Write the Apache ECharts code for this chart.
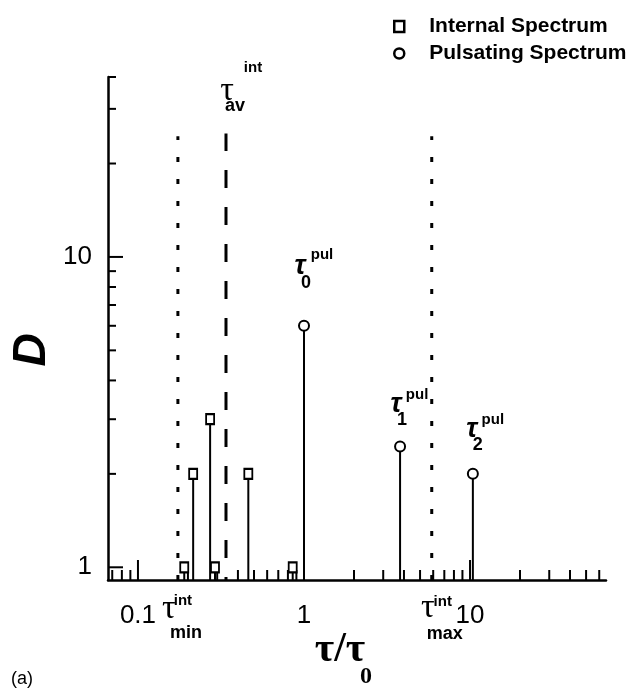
<!DOCTYPE html>
<html><head><meta charset="utf-8">
<script src="https://cdn.jsdelivr.net/npm/echarts@6/dist/echarts.min.js"></script>
<style>html,body{margin:0;padding:0;background:#fff}#c{width:634px;height:691px}</style>
</head><body><div id="c"></div>
<script>
// ---------------- data ----------------
const internalTau  = [0.190, 0.215, 0.272, 0.291, 0.462, 0.855];
const internalD    = [1, 2, 3, 1, 2, 1];
const pulsatingTau = [1.0, 3.79, 10.4];
const pulsatingD   = [6, 2.45, 2];
const refTau = [0.174, 0.339, 5.88];   // tau_min, tau_av, tau_max
const refTop = [24.5, 25, 24.5];
const xTickValues = [0.1, 1, 10];
const xTickLabels = ['0.1', '1', '10'];
const yTickValues = [1, 10];
const yTickLabels = ['1', '10'];
const xMinorTicks = [0.07, 0.08, 0.09, 0.2, 0.3, 0.4, 0.5, 0.6, 0.7, 0.8, 0.9, 2, 3, 4, 5, 6, 7, 8, 9, 20, 30, 40, 50, 60];
const yMinorTicks = [2, 3, 4, 5, 6, 7, 8, 9, 20, 30];
const xRange = [0.066, 65.9];
const yRange = [0.91, 38];
const seriesNames = ['Internal Spectrum', 'Pulsating Spectrum'];
const annotBase = ['τ', 'τ', 'τ', 'τ', 'τ', 'τ'];
const annotSub  = ['min', 'av', 'max', '0', '1', '2'];
const annotSup  = ['int', 'int', 'int', 'pul', 'pul', 'pul'];

// ---------------- styling / layout ----------------
const SERIF = "'Liberation Serif', 'Times New Roman', serif";
const SANS = "'Liberation Sans', Arial, sans-serif";

const annotLayout = [
  // [baseDx, baseDy, subDx, subDy, supDx, supDy]
  [-9, 29, 8, 53, 5, 21],
  [1, -42, 9, -27, 27, -66],
  [-4, 28, 13, 54, 11, 22],
  [-4, -59, 2, -43, 18, -71],
  [-4, -42, 2, -26, 17, -52],
  [-1, -44, 5, -29, 20, -54]
];

const annotAnchors = [
  [refTau[0], yRange[0]], [refTau[1], refTop[1]], [refTau[2], yRange[0]],
  [pulsatingTau[0], pulsatingD[0]], [pulsatingTau[1], pulsatingD[1]], [pulsatingTau[2], pulsatingD[2]]
];

function labelFor(values, labels) {
  return function (v) {
    for (let i = 0; i < values.length; i++) {
      if (Math.abs(Math.log10(v) - Math.log10(values[i])) < 1e-6) return labels[i];
    }
    return '';
  };
}

const xTicks = xTickValues.map(v => [v, yRange[0], 1]).concat(xMinorTicks.map(v => [v, yRange[0], 0]));
const yTicks = yTickValues.map(v => [xRange[0], v, 1]).concat(yMinorTicks.map(v => [xRange[0], v, 0])).concat([[xRange[0], yRange[1], 0]]);

const internalData = internalTau.map((t, i) => [t, internalD[i]]);
const pulsatingData = pulsatingTau.map((t, i) => [t, pulsatingD[i]]);
const stemData = internalData.concat(pulsatingData);
const refData = refTau.map((t, i) => [t, refTop[i], i]);

const chart = echarts.init(document.getElementById('c'));

const option = {
  animation: false,
  backgroundColor: '#fff',
  grid: { left: 108, right: 28, top: 77, bottom: 111, outerBoundsMode: 'none', containLabel: false },
  legend: {
    orient: 'vertical', left: 388, top: 11, itemWidth: 10, itemHeight: 11, itemGap: 6,
    data: seriesNames,
    itemStyle: { borderWidth: 2.5, borderColor: '#000', color: '#fff' },
    textStyle: { fontFamily: SANS, fontWeight: 'bold', fontSize: 21, color: '#000', padding: [0, 0, 0, 20] }
  },
  xAxis: {
    type: 'log', logBase: 10, min: xRange[0], max: xRange[1],
    axisLine: { lineStyle: { color: '#000', width: 2.5 } },
    axisTick: { show: false }, minorTick: { show: false }, splitLine: { show: false },
    axisLabel: { formatter: labelFor(xTickValues, xTickLabels), margin: 23, fontSize: 26, color: '#000', fontFamily: SANS }
  },
  yAxis: {
    type: 'log', logBase: 10, min: yRange[0], max: yRange[1],
    axisLine: { lineStyle: { color: '#000', width: 2.5 } },
    axisTick: { show: false }, minorTick: { show: false }, splitLine: { show: false },
    axisLabel: { formatter: labelFor(yTickValues, yTickLabels), margin: 16, fontSize: 26, color: '#000', fontFamily: SANS }
  },
  graphic: [
    { type: 'text', x: 32, y: 350, rotation: Math.PI / 2,
      style: { text: 'D', align: 'center', verticalAlign: 'middle', fontFamily: SANS, fontWeight: 'bold', fontStyle: 'italic', fontSize: 46, fill: '#000' } },
    { type: 'text', x: 340, y: 650,
      style: { text: 'τ/τ', align: 'center', verticalAlign: 'middle', fontFamily: SERIF, fontWeight: 'bold', fontSize: 42, fill: '#000' } },
    { type: 'text', x: 366, y: 677,
      style: { text: '0', align: 'center', verticalAlign: 'middle', fontFamily: SERIF, fontWeight: 'bold', fontSize: 24, fill: '#000' } },
    { type: 'text', x: 22, y: 679,
      style: { text: '(a)', align: 'center', verticalAlign: 'middle', fontFamily: SANS, fontSize: 18, fill: '#000' } }
  ],
  series: [
    {
      type: 'custom', name: 'refLines', silent: true, clip: false, z: 1,
      data: refData,
      renderItem: function (params, api) {
        const x = api.value(0), top = api.value(1), k = api.value(2);
        const p0 = api.coord([x, yRange[0]]);
        const p1 = api.coord([x, top]);
        const dashed = k === 1;
        return {
          type: 'line',
          shape: { x1: p0[0], y1: p0[1], x2: p1[0], y2: p1[1] },
          style: dashed
            ? { stroke: '#000', lineWidth: 3, lineDash: [18, 19], lineDashOffset: 15 }
            : { stroke: '#000', lineWidth: 3, lineDash: [5, 17] }
        };
      }
    },
    {
      type: 'custom', name: 'stems', silent: true, clip: false, z: 2,
      data: stemData,
      renderItem: function (params, api) {
        const x = api.value(0), y = api.value(1);
        const p0 = api.coord([x, yRange[0]]);
        const p1 = api.coord([x, y]);
        return { type: 'line', shape: { x1: p0[0], y1: p0[1], x2: p1[0], y2: p1[1] }, style: { stroke: '#000', lineWidth: 2 } };
      }
    },
    {
      type: 'custom', name: 'xTicks', silent: true, clip: false, z: 3,
      data: xTicks,
      renderItem: function (params, api) {
        const p = api.coord([api.value(0), api.value(1)]);
        const len = api.value(2) ? 20 : 10;
        return { type: 'line', shape: { x1: p[0], y1: p[1], x2: p[0], y2: p[1] - len }, style: { stroke: '#000', lineWidth: 2 } };
      }
    },
    {
      type: 'custom', name: 'yTicks', silent: true, clip: false, z: 3,
      data: yTicks,
      renderItem: function (params, api) {
        const p = api.coord([api.value(0), api.value(1)]);
        const len = api.value(2) ? 15 : 8;
        return { type: 'line', shape: { x1: p[0], y1: p[1], x2: p[0] + len, y2: p[1] }, style: { stroke: '#000', lineWidth: 2 } };
      }
    },
    {
      type: 'custom', name: 'annotations', silent: true, clip: false, z: 4,
      data: annotAnchors,
      renderItem: function (params, api) {
        const i = params.dataIndex;
        const p = api.coord([api.value(0), api.value(1)]);
        const L = annotLayout[i];
        const pul = i >= 3;
        const mk = (txt, dx, dy, st) => ({
          type: 'text', x: p[0] + dx, y: p[1] + dy,
          style: Object.assign({ text: txt, fill: '#000', align: 'center', verticalAlign: 'middle' }, st)
        });
        return {
          type: 'group', children: [
            mk(annotBase[i], L[0], L[1], pul
              ? { fontFamily: SANS, fontWeight: 'bold', fontStyle: 'italic', fontSize: 27 }
              : { fontFamily: SERIF, fontSize: 34 }),
            mk(annotSub[i], L[2], L[3], { fontFamily: SANS, fontWeight: 'bold', fontSize: pul ? 18 : 18 }),
            mk(annotSup[i], L[4], L[5], { fontFamily: SANS, fontWeight: 'bold', fontSize: 15 })
          ]
        };
      }
    },
    {
      type: 'scatter', name: seriesNames[0], z: 5,
      data: internalData, symbol: 'rect', symbolSize: [8, 10],
      itemStyle: { color: '#fff', borderColor: '#000', borderWidth: 2, opacity: 1 }
    },
    {
      type: 'scatter', name: seriesNames[1], z: 5,
      data: pulsatingData, symbol: 'circle', symbolSize: 10,
      itemStyle: { color: '#fff', borderColor: '#000', borderWidth: 2, opacity: 1 }
    }
  ]
};
chart.setOption(option);
</script>
</body></html>
